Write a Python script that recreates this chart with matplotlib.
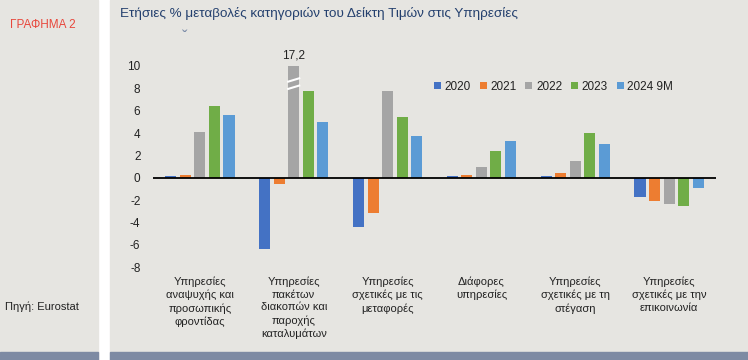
import matplotlib
matplotlib.use("Agg")
import matplotlib.pyplot as plt
import numpy as np
from matplotlib.patches import Rectangle
from matplotlib.lines import Line2D

categories = ["Υπηρεσίες\nαναψυχής και\nπροσωπικής\nφροντίδας",
              "Υπηρεσίες\nπακέτων\nδιακοπών και\nπαροχής\nκαταλυμάτων",
              "Υπηρεσίες\nσχετικές με τις\nμεταφορές",
              "Διάφορες\nυπηρεσίες",
              "Υπηρεσίες\nσχετικές με τη\nστέγαση",
              "Υπηρεσίες\nσχετικές με την\nεπικοινωνία"]
series_names = ["2020", "2021", "2022", "2023", "2024 9M"]
v2020 = [0.15, -6.35, -4.45, 0.18, 0.15, -1.75]
v2021 = [0.2, -0.6, -3.15, 0.27, 0.4, -2.05]
v2022 = [4.1, 17.2, 7.8, 1.0, 1.5, -2.35]
v2023 = [6.4, 7.8, 5.4, 2.4, 4.0, -2.55]
v2024 = [5.6, 5.0, 3.7, 3.3, 3.05, -0.95]
colors = ["#4472C4", "#ED7D31", "#A5A5A5", "#70AD47", "#5B9BD5"]
yticks = [-8, -6, -4, -2, 0, 2, 4, 6, 8, 10]

plt.rcParams['font.family'] = ['Liberation Sans', 'DejaVu Sans']

bg = "#E6E5E1"
fig = plt.figure(figsize=(7.48, 3.6), dpi=100)
fig.patch.set_facecolor("white")
W, H = 748, 360
# panels
fig.patches.append(Rectangle((0, 0), 98 / W, 1, transform=fig.transFigure, color=bg, zorder=-3))
fig.patches.append(Rectangle((110 / W, 0), 1 - 110 / W, 1, transform=fig.transFigure, color=bg, zorder=-3))
fig.patches.append(Rectangle((0, 0), 98 / W, 8 / H, transform=fig.transFigure, color="#7D8AA3", zorder=-2))
fig.patches.append(Rectangle((110 / W, 0), 1 - 110 / W, 8 / H, transform=fig.transFigure, color="#7D8AA3", zorder=-2))

fig.text(10 / W, 1 - 25 / H, "ΓΡΑΦΗΜΑ 2", color="#E8473C", fontsize=8.5, va="center", ha="left")
fig.text(120 / W, 1 - 13 / H, "Ετήσιες % μεταβολές κατηγοριών του Δείκτη Τιμών στις Υπηρεσίες",
         color="#24406E", fontsize=9.7, va="center", ha="left")
fig.text(185 / W, 1 - 38 / H, "ˇ", color="#7C8CA8", fontsize=12, va="center", ha="center")
fig.text(5 / W, 1 - 307 / H, "Πηγή: Eurostat", color="#222222", fontsize=8, va="center", ha="left")

ax = fig.add_axes([153 / W, 1 - 267 / H, (716 - 153) / W, (267 - 66) / H])
ax.set_facecolor("none")
x = np.arange(len(categories))
step = 0.155
width = 0.118
all_series = [v2020, v2021, v2022, v2023, v2024]
bars_all = []
for i, (vals, name, c) in enumerate(zip(all_series, series_names, colors)):
    b = ax.bar(x + (i - 2) * step, vals, width, color=c, label=name, zorder=2)
    bars_all.append(b)

ax.set_xlim(-0.5, len(categories) - 0.5)
ax.set_ylim(-8, 10)
ax.set_yticks(yticks)
ax.set_yticklabels([str(t) for t in yticks])
ax.set_xticks(x)
ax.set_xticklabels(categories, fontsize=8, color="#222222", linespacing=1.32)
ax.tick_params(axis='x', length=0, pad=7)
ax.tick_params(axis='y', length=0, pad=9, labelsize=8.5, colors="#222222")
for s in ax.spines.values():
    s.set_visible(False)
ax.axhline(0, color="black", lw=1.3, zorder=3)

# broken bar marks & value label for clipped bar
bb = bars_all[2][1]
bx0 = bb.get_x()
bx1 = bx0 + bb.get_width()
for y0, y1 in [(7.95, 8.25), (8.6, 8.9)]:
    ax.add_line(Line2D([bx0, bx1], [y0, y1], color="white", lw=1.5, zorder=4))
ax.text(bx0 + bb.get_width() / 2, 10.4, "17,2", ha="center", va="bottom", fontsize=8.5,
        color="#222222", clip_on=False)

leg = ax.legend(loc="upper left", bbox_to_anchor=(0.48, 0.98), ncol=5, frameon=False,
                fontsize=8.5, handlelength=0.6, handleheight=0.6, handletextpad=0.3,
                columnspacing=0.75)
for t in leg.get_texts():
    t.set_color("#222222")

fig.savefig("out.png", dpi=100, facecolor=fig.get_facecolor())
